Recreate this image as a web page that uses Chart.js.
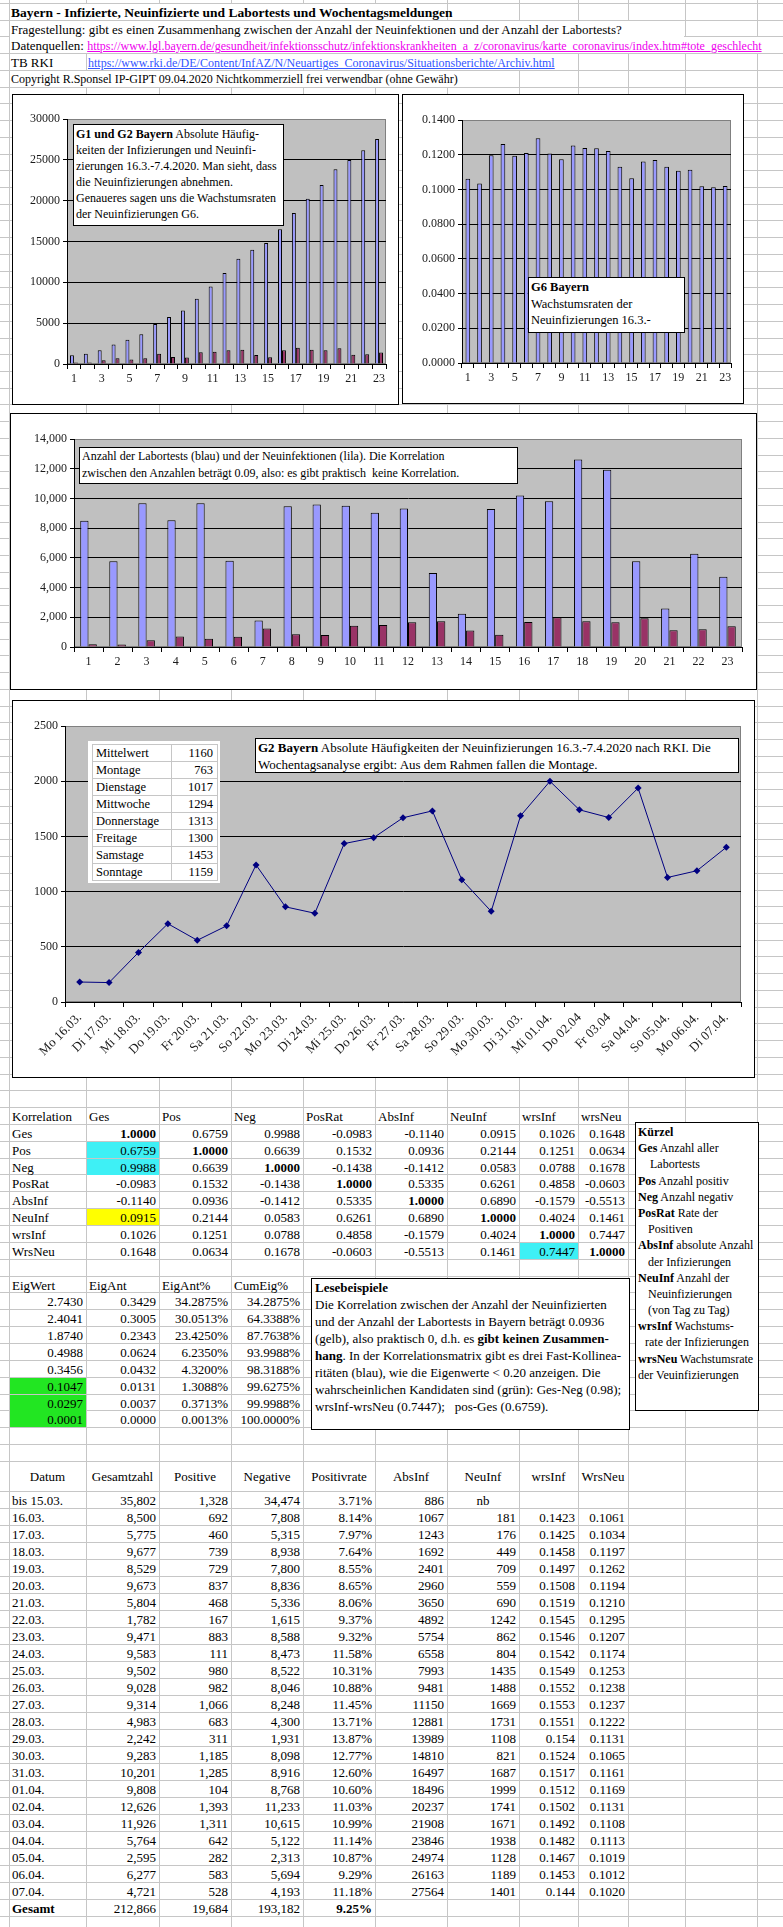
<!DOCTYPE html>
<html lang="de">
<head>
<meta charset="utf-8">
<title>Bayern - Infizierte, Neuinfizierte und Labortests</title>
<script src="https://cdn.jsdelivr.net/npm/chart.js@4.4.1/dist/chart.umd.min.js"></script>
<style>
  body { margin: 0; background: #fff; font-family: 'Liberation Serif', 'Times New Roman', serif; font-size: 13px; color: #000; }
  #sheet { position: relative; width: 783px; height: 1927px; overflow: hidden; background: #fff; }
  .gl { position: absolute; background: #c6c6c6; }
  .t { position: absolute; white-space: nowrap; overflow: visible; }
  .box { position: absolute; background: #fff; border: 1px solid #000; box-sizing: border-box; }
  .box canvas { position: absolute; left: 0; top: 0; }
  .note { position: absolute; background: #fff; border: 1px solid #000; box-sizing: border-box; white-space: nowrap; font-size: 12px; }
  .note div { white-space: nowrap; }
  a.lnk1 { color: #ee00ee; font-size: 12px; }
  a.lnk2 { color: #3355ff; font-size: 12px; }
</style>
</head>
<body>
<div id="sheet"></div>

<script>
// ---------- Daten ----------
var tage = ['1','2','3','4','5','6','7','8','9','10','11','12','13','14','15','16','17','18','19','20','21','22','23'];
var wochentage = ['Mo 16.03.','Di 17.03.','Mi 18.03.','Do 19.03.','Fr 20.03.','Sa 21.03.','So 22.03.','Mo 23.03.','Di 24.03.','Mi 25.03.','Do 26.03.','Fr 27.03.','Sa 28.03.','So 29.03.','Mo 30.03.','Di 31.03.','Mi 01.04.','Do 02.04','Fr 03.04','Sa 04.04.','So 05.04.','Mo 06.04.','Di 07.04.'];
var datum = ['16.03.','17.03.','18.03.','19.03.','20.03.','21.03.','22.03.','23.03.','24.03.','25.03.','26.03.','27.03.','28.03.','29.03.','30.03.','31.03.','01.04.','02.04.','03.04.','04.04.','05.04.','06.04.','07.04.'];
var gesamtzahl = [8500,5775,9677,8529,9673,5804,1782,9471,9583,9502,9028,9314,4983,2242,9283,10201,9808,12626,11926,5764,2595,6277,4721];
var positive = [692,460,739,729,837,468,167,883,111,980,982,1066,683,311,1185,1285,104,1393,1311,642,282,583,528];
var negative = [7808,5315,8938,7800,8836,5336,1615,8588,8473,8522,8046,8248,4300,1931,8098,8916,8768,11233,10615,5122,2313,5694,4193];
var positivrate = [8.14,7.97,7.64,8.55,8.65,8.06,9.37,9.32,11.58,10.31,10.88,11.45,13.71,13.87,12.77,12.60,10.60,11.03,10.99,11.14,10.87,9.29,11.18];
var absInf = [1067,1243,1692,2401,2960,3650,4892,5754,6558,7993,9481,11150,12881,13989,14810,16497,18496,20237,21908,23846,24974,26163,27564];
var neuInf = [181,176,449,709,559,690,1242,862,804,1435,1488,1669,1731,1108,821,1687,1999,1741,1671,1938,1128,1189,1401];
var wrsInf = [0.1423,0.1425,0.1458,0.1497,0.1508,0.1519,0.1545,0.1546,0.1542,0.1549,0.1552,0.1553,0.1551,0.154,0.1524,0.1517,0.1512,0.1502,0.1492,0.1482,0.1467,0.1453,0.144];
var wrsNeu = [0.1061,0.1034,0.1197,0.1262,0.1194,0.1210,0.1295,0.1207,0.1174,0.1253,0.1238,0.1237,0.1222,0.1131,0.1065,0.1161,0.1169,0.1131,0.1108,0.1113,0.1019,0.1012,0.1020];
var bis1503 = ['bis 15.03.', 35802, 1328, 34474, 3.71, 886, 'nb'];
var summe = [212866, 19684, 193182, 9.25];

var korrKopf = ['Korrelation','Ges','Pos','Neg','PosRat','AbsInf','NeuInf','wrsInf','wrsNeu'];
var korrNamen = ['Ges','Pos','Neg','PosRat','AbsInf','NeuInf','wrsInf','WrsNeu'];
var korrMatrix = [
  [1.0000, 0.6759, 0.9988, -0.0983, -0.1140, 0.0915, 0.1026, 0.1648],
  [0.6759, 1.0000, 0.6639, 0.1532, 0.0936, 0.2144, 0.1251, 0.0634],
  [0.9988, 0.6639, 1.0000, -0.1438, -0.1412, 0.0583, 0.0788, 0.1678],
  [-0.0983, 0.1532, -0.1438, 1.0000, 0.5335, 0.6261, 0.4858, -0.0603],
  [-0.1140, 0.0936, -0.1412, 0.5335, 1.0000, 0.6890, -0.1579, -0.5513],
  [0.0915, 0.2144, 0.0583, 0.6261, 0.6890, 1.0000, 0.4024, 0.1461],
  [0.1026, 0.1251, 0.0788, 0.4858, -0.1579, 0.4024, 1.0000, 0.7447],
  [0.1648, 0.0634, 0.1678, -0.0603, -0.5513, 0.1461, 0.7447, 1.0000]
];
var eigKopf = ['EigWert','EigAnt','EigAnt%','CumEig%'];
var eigWert = [2.7430, 2.4041, 1.8740, 0.4988, 0.3456, 0.1047, 0.0297, 0.0001];
var eigAnt = [0.3429, 0.3005, 0.2343, 0.0624, 0.0432, 0.0131, 0.0037, 0.0000];
var eigAntProz = [34.2875, 30.0513, 23.4250, 6.2350, 4.3200, 1.3088, 0.3713, 0.0013];
var cumEig = [34.2875, 64.3388, 87.7638, 93.9988, 98.3188, 99.6275, 99.9988, 100.0000];

var wtNamen = ['Mittelwert','Montage','Dienstage','Mittwoche','Donnerstage','Freitage','Samstage','Sonntage'];
var wtWerte = [1160, 763, 1017, 1294, 1313, 1300, 1453, 1159];

// ---------- Tabellenblatt ----------
var sheet = document.getElementById('sheet');
var colX = [9, 86, 159, 231, 303, 375, 447, 519, 578, 628, 685, 757];

function el(cls, css, html) {
  var d = document.createElement('div');
  d.className = cls;
  for (var k in css) d.style[k] = css[k];
  if (html !== undefined) d.innerHTML = html;
  sheet.appendChild(d);
  return d;
}

// Gitterlinien
colX.forEach(function (x) { el('gl', { left: x + 'px', top: '0px', width: '1px', height: '1927px' }); });
var rowsA = [], rowsB = [], rowsC = [];
for (var i = 0; i <= 66; i++) rowsA.push(3 + i * 16.727);
for (var i = 0; i <= 21; i++) rowsB.push(1107 + i * 16.86);
for (var i = 0; 1491 + i * 17 < 1927; i++) rowsC.push(1491 + i * 17);
rowsA.concat(rowsB, rowsC).forEach(function (y) {
  el('gl', { left: '0px', top: Math.round(y) + 'px', width: '783px', height: '1px' });
});

function fmt(n) { return n.toLocaleString('en-US'); }

// Zelle: Spalten c1..c2, Zeile y1..y2
function cell(c1, c2, y1, y2, text, opt) {
  opt = opt || {};
  var x1 = colX[c1], x2 = colX[c2];
  if (opt.bg) el('t', { left: (x1 + 1) + 'px', top: Math.round(y1 + 1) + 'px', width: (x2 - x1 - 1) + 'px', height: Math.round(y2 - y1 - 1) + 'px', background: opt.bg });
  el('t', {
    left: (x1 + 3) + 'px', top: Math.round(y1) + 'px', width: (x2 - x1 - 6) + 'px',
    height: Math.round(y2 - y1) + 'px', lineHeight: Math.round(y2 - y1 + 2) + 'px',
    textAlign: opt.align || 'left', fontWeight: opt.bold ? 'bold' : 'normal'
  }, text);
}

// Kopfzeilen
function kopf(y1, y2, xEnd, html, x0, size) {
  x0 = x0 || 10;
  el('t', { left: x0 + 'px', top: Math.round(y1 + 1) + 'px', width: (xEnd - x0) + 'px', height: Math.round(y2 - y1 - 1) + 'px', background: '#fff' });
  el('t', { left: (x0 + 1) + 'px', top: Math.round(y1) + 'px', height: Math.round(y2 - y1) + 'px', lineHeight: Math.round(y2 - y1 + 2) + 'px', fontSize: (size || 13) + 'px' }, html);
}
kopf(rowsA[0], rowsA[1], 446, '<b>Bayern - Infizierte, Neuinfizierte und Labortests und Wochentagsmeldungen</b>', 10, 13.5);
kopf(rowsA[1], rowsA[2], 684, 'Fragestellung: gibt es einen Zusammenhang zwischen der Anzahl der Neuinfektionen und der Anzahl der Labortests?');
kopf(rowsA[2], rowsA[3], 782, 'Datenquellen: <a class="lnk1" href="#">https://www.lgl.bayern.de/gesundheit/infektionsschutz/infektionskrankheiten_a_z/coronavirus/karte_coronavirus/index.htm#tote_geschlecht</a>');
el('t', { left: '11px', top: Math.round(rowsA[3]) + 'px', height: '17px', lineHeight: '19px' }, 'TB RKI');
kopf(rowsA[3], rowsA[4], 577, '<a class="lnk2" href="#">https://www.rki.de/DE/Content/InfAZ/N/Neuartiges_Coronavirus/Situationsberichte/Archiv.html</a>', 87);
kopf(rowsA[4], rowsA[5], 518, 'Copyright R.Sponsel IP-GIPT 09.04.2020 Nichtkommerziell frei verwendbar (ohne Gewähr)', 10, 12);

// Korrelationsmatrix
korrKopf.forEach(function (h, c) { cell(c, c + 1, rowsB[0], rowsB[1], h); });
korrNamen.forEach(function (n, r) {
  cell(0, 1, rowsB[r + 1], rowsB[r + 2], n);
  korrMatrix[r].forEach(function (v, c) {
    var bg = null;
    if (c === 0 && (r === 1 || r === 2)) bg = '#3ef0f5';
    if (c === 0 && r === 5) bg = '#ffff00';
    if (c === 6 && r === 7) bg = '#3ef0f5';
    cell(c + 1, c + 2, rowsB[r + 1], rowsB[r + 2], v.toFixed(4), { align: 'right', bold: r === c, bg: bg });
  });
});

// Eigenwerte
eigKopf.forEach(function (h, c) { cell(c, c + 1, rowsB[10], rowsB[11], h); });
eigWert.forEach(function (v, r) {
  var y1 = rowsB[11 + r], y2 = rowsB[12 + r];
  cell(0, 1, y1, y2, v.toFixed(4), { align: 'right', bg: r >= 5 ? '#22e622' : null });
  cell(1, 2, y1, y2, eigAnt[r].toFixed(4), { align: 'right' });
  cell(2, 3, y1, y2, eigAntProz[r].toFixed(4) + '%', { align: 'right' });
  cell(3, 4, y1, y2, cumEig[r].toFixed(4) + '%', { align: 'right' });
});

// Datentabelle
var kopfC = ['Datum','Gesamtzahl','Positive','Negative','Positivrate','AbsInf','NeuInf','wrsInf','WrsNeu'];
kopfC.forEach(function (h, c) { cell(c, c + 1, 1461, 1491, h, { align: 'center' }); });
cell(0, 1, rowsC[0], rowsC[1], bis1503[0]);
cell(1, 2, rowsC[0], rowsC[1], fmt(bis1503[1]), { align: 'right' });
cell(2, 3, rowsC[0], rowsC[1], fmt(bis1503[2]), { align: 'right' });
cell(3, 4, rowsC[0], rowsC[1], fmt(bis1503[3]), { align: 'right' });
cell(4, 5, rowsC[0], rowsC[1], bis1503[4].toFixed(2) + '%', { align: 'right' });
cell(5, 6, rowsC[0], rowsC[1], String(bis1503[5]), { align: 'right' });
cell(6, 7, rowsC[0], rowsC[1], bis1503[6], { align: 'center' });
datum.forEach(function (d, r) {
  var y1 = rowsC[r + 1], y2 = rowsC[r + 2];
  cell(0, 1, y1, y2, d);
  cell(1, 2, y1, y2, fmt(gesamtzahl[r]), { align: 'right' });
  cell(2, 3, y1, y2, fmt(positive[r]), { align: 'right' });
  cell(3, 4, y1, y2, fmt(negative[r]), { align: 'right' });
  cell(4, 5, y1, y2, positivrate[r].toFixed(2) + '%', { align: 'right' });
  cell(5, 6, y1, y2, String(absInf[r]), { align: 'right' });
  cell(6, 7, y1, y2, String(neuInf[r]), { align: 'right' });
  cell(7, 8, y1, y2, String(wrsInf[r]), { align: 'right' });
  cell(8, 9, y1, y2, wrsNeu[r].toFixed(4), { align: 'right' });
});
var yg = rowsC[24], yg2 = rowsC[25];
cell(0, 1, yg, yg2, 'Gesamt', { bold: true });
cell(1, 2, yg, yg2, fmt(summe[0]), { align: 'right' });
cell(2, 3, yg, yg2, fmt(summe[1]), { align: 'right' });
cell(3, 4, yg, yg2, fmt(summe[2]), { align: 'right' });
cell(4, 5, yg, yg2, summe[3].toFixed(2) + '%', { align: 'right', bold: true });

// Textkästen
var kuerzel = [
  ['<b>Kürzel</b>', 0], ['<b>Ges</b> Anzahl aller', 0], ['Labortests', 12], ['<b>Pos</b> Anzahl positiv', 0],
  ['<b>Neg</b> Anzahl negativ', 0], ['<b>PosRat</b> Rate der', 0], ['Positiven', 10], ['<b>AbsInf</b> absolute Anzahl', 0],
  ['der Infizierungen', 10], ['<b>NeuInf</b> Anzahl der', 0], ['Neuinfizierungen', 10], ['(von Tag zu Tag)', 10],
  ['<b>wrsInf</b> Wachstums-', 0], ['rate der Infizierungen', 7], ['<b>wrsNeu</b> Wachstumsrate', 0], ['der Veuinfizierungen', 0]
];
var kb = el('note', { left: '635px', top: '1122px', width: '124px', height: '289px', paddingTop: '1px', fontSize: '12px' });
kuerzel.forEach(function (z) {
  var d = document.createElement('div');
  d.style.height = '16.2px'; d.style.lineHeight = '16.2px'; d.style.paddingLeft = (2 + z[1]) + 'px';
  d.innerHTML = z[0]; kb.appendChild(d);
});

var lese = [
  '<b>Lesebeispiele</b>',
  'Die Korrelation zwischen der Anzahl der Neuinfizierten',
  'und der Anzahl der Labortests in Bayern beträgt 0.0936',
  '(gelb), also praktisch 0, d.h. es <b>gibt keinen Zusammen-</b>',
  '<b>hang</b>. In der Korrelationsmatrix gibt es drei Fast-Kollinea-',
  'ritäten (blau), wie die Eigenwerte &lt; 0.20 anzeigen. Die',
  'wahrscheinlichen Kandidaten sind (grün): Ges-Neg (0.98);',
  'wrsInf-wrsNeu (0.7447);&nbsp;&nbsp; pos-Ges (0.6759).'
];
var lb = el('note', { left: '311px', top: '1278px', width: '319px', height: '152px', fontSize: '13px' });
lese.forEach(function (z) {
  var d = document.createElement('div');
  d.style.height = '17px'; d.style.lineHeight = '17px'; d.style.paddingLeft = '3px';
  d.innerHTML = z; lb.appendChild(d);
});

// ---------- Diagramme ----------
Chart.defaults.font.family = "'Liberation Serif', 'Times New Roman', serif";
Chart.defaults.font.size = 12;
Chart.defaults.color = '#1a1a1a';

var plotBg = {
  id: 'plotBg',
  beforeDraw: function (chart) {
    var a = chart.chartArea, ctx = chart.ctx;
    ctx.save();
    ctx.fillStyle = '#c0c0c0';
    ctx.fillRect(a.left, a.top, a.right - a.left, a.bottom - a.top);
    ctx.strokeStyle = '#808080';
    ctx.lineWidth = 1;
    ctx.strokeRect(a.left + 0.5, a.top + 0.5, a.right - a.left - 1, a.bottom - a.top - 1);
    ctx.restore();
  }
};

function makeBox(left, top, w, h) {
  var b = el('box', { left: left + 'px', top: top + 'px', width: w + 'px', height: h + 'px' });
  var c = document.createElement('canvas');
  c.width = w - 2; c.height = h - 2;
  b.appendChild(c);
  return c;
}

function note(left, top, w, h, lines, lh, pt, size) {
  var n = el('note', { left: left + 'px', top: top + 'px', width: w + 'px', height: h + 'px', paddingTop: pt + 'px', fontSize: (size || 12) + 'px' });
  lines.forEach(function (z) {
    var d = document.createElement('div');
    d.style.height = lh + 'px'; d.style.lineHeight = lh + 'px'; d.style.paddingLeft = '2px';
    d.innerHTML = z; n.appendChild(d);
  });
}

function yAxis(max, step, width, fmtFn) {
  return {
    min: 0, max: max,
    ticks: { stepSize: step, padding: 3, callback: fmtFn },
    grid: {
      color: function (c) { return c.tick && Math.abs(c.tick.value - max) < 1e-9 ? '#808080' : '#000'; },
      tickColor: '#000', tickLength: 4, lineWidth: 1
    },
    border: { color: '#000' },
    afterFit: function (s) { s.width = width; }
  };
}

function xAxis(height, everyOther, rot, size) {
  return {
    offset: true,
    grid: { offset: true, drawOnChartArea: false, drawTicks: true, tickLength: 5, color: '#000' },
    border: { color: '#000' },
    ticks: {
      autoSkip: false, maxRotation: rot, minRotation: rot, padding: 3, font: { size: size || 12 },
      callback: function (v, i) { return (everyOther && i % 2 === 1) ? '' : this.getLabelForValue(v); }
    },
    afterFit: function (s) { s.height = height; }
  };
}

function baseOpts(pad, x, y) {
  return {
    responsive: false, animation: false,
    layout: { padding: pad },
    plugins: { legend: { display: false }, tooltip: { enabled: false } },
    scales: { x: x, y: y }
  };
}

// G1/G2
new Chart(makeBox(12, 94, 387, 311), {
  type: 'bar',
  data: {
    labels: tage,
    datasets: [
      { data: absInf, backgroundColor: '#9999ff', borderColor: '#000', borderWidth: 1, categoryPercentage: 0.571, barPercentage: 1 },
      { data: neuInf, backgroundColor: '#993366', borderColor: '#000', borderWidth: 1, categoryPercentage: 0.571, barPercentage: 1 }
    ]
  },
  options: baseOpts({ left: 0, right: 12, top: 24, bottom: 0 }, xAxis(40, true, 0), yAxis(30000, 5000, 54, function (v) { return String(v); })),
  plugins: [plotBg]
});
note(73, 124, 211, 102, [
  '<b>G1 und G2 Bayern</b> Absolute Häufig-',
  'keiten der Infizierungen und Neuinfi-',
  'zierungen 16.3.-7.4.2020. Man sieht, dass',
  'die Neuinfizierungen abnehmen.',
  'Genaueres sagen uns die Wachstumsraten',
  'der Neuinfizierungen G6.'
], 16, 1);

// G6
new Chart(makeBox(402, 94, 342, 310), {
  type: 'bar',
  data: {
    labels: tage,
    datasets: [
      { data: wrsNeu, backgroundColor: '#9999ff', borderColor: '#000', borderWidth: 1, categoryPercentage: 0.4, barPercentage: 1 }
    ]
  },
  options: baseOpts({ left: 0, right: 12, top: 25, bottom: 0 }, xAxis(40, true, 0), yAxis(0.14, 0.02, 59, function (v) { return v.toFixed(4); })),
  plugins: [plotBg]
});
note(528, 277, 157, 56, [
  '<b>G6 Bayern</b>',
  'Wachstumsraten der',
  'Neuinfizierungen 16.3.-'
], 16.5, 1, 12.5);

// Labortests / Neuinfektionen
new Chart(makeBox(10, 413, 747, 277), {
  type: 'bar',
  data: {
    labels: tage,
    datasets: [
      { data: gesamtzahl, backgroundColor: '#9999ff', borderColor: '#000', borderWidth: 1, categoryPercentage: 0.571, barPercentage: 1 },
      { data: neuInf, backgroundColor: '#993366', borderColor: '#000', borderWidth: 1, categoryPercentage: 0.571, barPercentage: 1 }
    ]
  },
  options: baseOpts({ left: 0, right: 14, top: 25, bottom: 0 }, xAxis(42, false, 0), yAxis(14000, 2000, 63, function (v) { return v.toLocaleString('en-US'); })),
  plugins: [plotBg]
});
note(79, 447, 439, 37, [
  'Anzahl der Labortests (blau) und der Neuinfektionen (lila). Die Korrelation',
  'zwischen den Anzahlen beträgt 0.09, also: es gibt praktisch&nbsp; keine Korrelation.'
], 17, 0);

// G2 Wochentage
new Chart(makeBox(12, 700, 743, 378), {
  type: 'line',
  data: {
    labels: wochentage,
    datasets: [
      { data: neuInf, borderColor: '#000080', borderWidth: 1, backgroundColor: '#000080', tension: 0,
        pointStyle: 'rectRot', pointRadius: 3.5, pointBorderWidth: 0 }
    ]
  },
  options: baseOpts({ left: 0, right: 13, top: 25, bottom: 0 }, xAxis(75, false, 45, 13), yAxis(2500, 500, 52, function (v) { return String(v); })),
  plugins: [plotBg]
});
note(255, 738, 484, 35, [
  '<b>G2 Bayern</b> Absolute Häufigkeiten der Neuinfizierungen 16.3.-7.4.2020 nach RKI. Die',
  'Wochentagsanalyse ergibt: Aus dem Rahmen fallen die Montage.'
], 17, 0, 13);

// Wochentagstabelle im Diagramm
el('t', { left: '88px', top: '741px', width: '132px', height: '142px', background: '#fff' });
wtNamen.forEach(function (n, r) {
  var y = 744 + r * 17;
  el('gl', { left: '92px', top: y + 'px', width: '126px', height: '1px' });
  el('t', { left: '96px', top: y + 'px', height: '17px', lineHeight: '19px', fontSize: '12.5px' }, n);
  el('t', { left: '171px', top: y + 'px', width: '42px', height: '17px', lineHeight: '19px', textAlign: 'right', fontSize: '12.5px' }, String(wtWerte[r]));
});
el('gl', { left: '92px', top: (744 + 8 * 17) + 'px', width: '126px', height: '1px' });
el('gl', { left: '92px', top: '744px', width: '1px', height: '136px' });
el('gl', { left: '171px', top: '744px', width: '1px', height: '136px' });
el('gl', { left: '217px', top: '744px', width: '1px', height: '136px' });
</script>
</body>
</html>
